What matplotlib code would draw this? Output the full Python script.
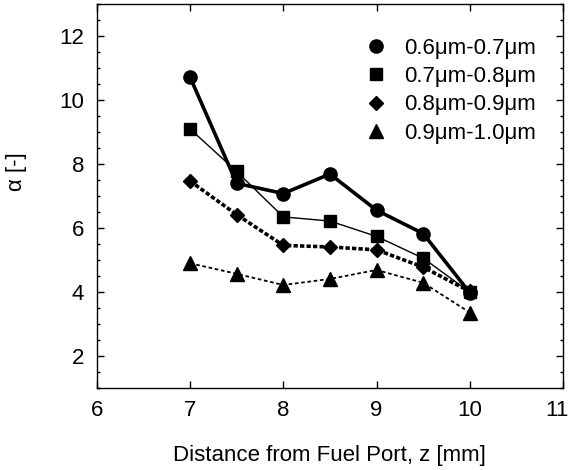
import matplotlib
matplotlib.use('Agg')
import matplotlib.pyplot as plt
from matplotlib.ticker import MultipleLocator

plt.rcParams['font.family'] = ['Liberation Sans', 'DejaVu Sans']

# distance from fuel port (mm)
z = [7.0, 7.5, 8.0, 8.5, 9.0, 9.5, 10.0]

# alpha for each size band
alpha_06_07 = [10.72, 7.40, 7.08, 7.69, 6.56, 5.83, 3.98]
alpha_07_08 = [9.10, 7.77, 6.35, 6.22, 5.74, 5.06, 4.00]
alpha_08_09 = [7.47, 6.42, 5.46, 5.41, 5.32, 4.78, 4.02]
alpha_09_10 = [4.90, 4.57, 4.22, 4.41, 4.69, 4.29, 3.36]

labels = ['0.6\u03bcm-0.7\u03bcm', '0.7\u03bcm-0.8\u03bcm',
          '0.8\u03bcm-0.9\u03bcm', '0.9\u03bcm-1.0\u03bcm']

x_ticks = [6, 7, 8, 9, 10, 11]
x_ticklabels = ['6', '7', '8', '9', '10', '11']

fig = plt.figure(figsize=(5.73, 4.70), dpi=100)
ax = fig.add_axes([0.169, 0.1745, 0.8135, 0.8165])

# lines first, markers drawn over them
ax.plot(z, alpha_06_07, color='black', lw=2.6, ls='-', zorder=2)
ax.plot(z, alpha_07_08, color='black', lw=1.0, ls='-', zorder=2)
ax.plot(z, alpha_08_09, color='black', lw=2.6, ls=(0, (1.2, 0.6)), zorder=2)
ax.plot(z, alpha_09_10, color='black', lw=1.3, ls=(0, (2, 1.5)), zorder=2)

ax.plot(z, alpha_06_07, 'o', color='black', ms=9.5, zorder=3, label=labels[0])
ax.plot(z, alpha_07_08, 's', color='black', ms=9.0, zorder=3, label=labels[1])
ax.plot(z, alpha_08_09, 'D', color='black', ms=7.5, zorder=3, label=labels[2])
ax.plot(z, alpha_09_10, '^', color='black', ms=10, zorder=3, label=labels[3])

ax.set_xlim(6, 11)
ax.set_ylim(1, 13)
# last label is drawn separately so it sits inside the figure edge
ax.set_xticks(x_ticks, x_ticklabels[:-1] + [''])
ax.annotate(x_ticklabels[-1], xy=(x_ticks[-1], 0),
            xycoords=('data', 'axes fraction'), xytext=(-4, -9),
            textcoords='offset points', ha='center', va='top', fontsize=16)
ax.yaxis.set_major_locator(MultipleLocator(2))
ax.yaxis.set_minor_locator(MultipleLocator(0.5))
ax.tick_params(which='both', direction='in', top=True, right=True,
               labelsize=16, width=1.0)
ax.tick_params(which='major', length=5, pad=9)
ax.tick_params(which='minor', length=2.5)
for s in ax.spines.values():
    s.set_linewidth(1.0)

ax.set_xlabel('Distance from Fuel Port, z [mm]', fontsize=16, labelpad=17)
ax.set_ylabel('\u03b1 [-]', fontsize=16)
ax.yaxis.set_label_coords(-0.15, 0.5625)

ax.legend(loc='upper right', frameon=False, fontsize=16, handletextpad=0.65,
          labelspacing=0.33, handlelength=1.2, borderaxespad=0.5,
          bbox_to_anchor=(0.985, 0.965))

fig.savefig('out.png', dpi=100)
